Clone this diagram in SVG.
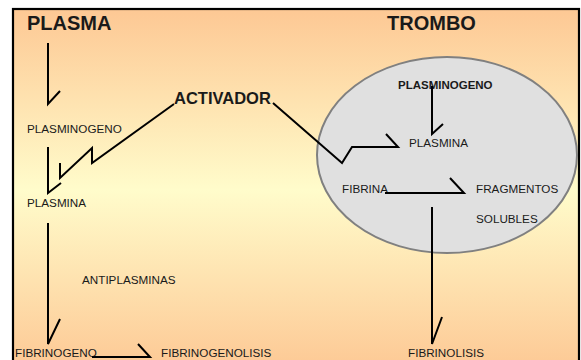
<svg xmlns="http://www.w3.org/2000/svg" width="581" height="360" viewBox="0 0 581 360">
<defs>
<linearGradient id="bg" x1="0" y1="0" x2="0" y2="1">
<stop offset="0" stop-color="#FDC894"/>
<stop offset="0.5" stop-color="#FFFCCB"/>
<stop offset="1" stop-color="#FDC894"/>
</linearGradient>
</defs>
<style>
.t{font-family:"Liberation Sans",Arial,sans-serif;fill:#1a1a1a}
.big{font-size:20px;font-weight:bold}
.mid{font-size:16.5px;font-weight:bold}
.sm{font-size:11.7px}
.smb{font-size:11.5px;font-weight:bold}
.c{fill:none;stroke:#000;stroke-width:2;stroke-linejoin:miter}
</style>
<rect x="0" y="0" width="581" height="360" fill="#fff"/>
<rect x="13" y="9" width="566" height="362" fill="url(#bg)" stroke="#000" stroke-width="2.2"/>
<g id="trombo-ellipse">
<ellipse cx="447" cy="155" rx="130" ry="98" fill="#E0E0E0" stroke="#808080" stroke-width="2"/>
</g>
<g id="plasma"><text class="t big" x="27" y="30">PLASMA</text></g>
<g id="trombo"><text class="t big" x="387" y="30">TROMBO</text></g>
<g id="activador"><text class="t mid" x="174" y="104">ACTIVADOR</text></g>
<g id="plasminogeno-l"><text class="t sm" x="27" y="133">PLASMINOGENO</text></g>
<g id="plasmina-l"><text class="t sm" x="27" y="207">PLASMINA</text></g>
<g id="antiplasminas"><text class="t sm" x="82" y="284">ANTIPLASMINAS</text></g>
<g id="fibrinogeno"><text class="t sm" x="15" y="357">FIBRINOGENO</text></g>
<g id="fibrinogenolisis"><text class="t sm" x="161" y="357">FIBRINOGENOLISIS</text></g>
<g id="plasminogeno-r"><text class="t smb" x="398" y="89">PLASMINOGENO</text></g>
<g id="plasmina-r"><text class="t sm" x="409" y="147">PLASMINA</text></g>
<g id="fibrina"><text class="t sm" x="342" y="193">FIBRINA</text></g>
<g id="fragmentos"><text class="t sm" x="476" y="193">FRAGMENTOS</text></g>
<g id="solubles"><text class="t sm" x="476" y="223">SOLUBLES</text></g>
<g id="fibrinolisis"><text class="t sm" x="408" y="357">FIBRINOLISIS</text></g>
<g id="connectors">
<path class="c" d="M48 43 V104 L60 91"/>
<path class="c" d="M48 147 V193 L61 183"/>
<path class="c" d="M174 104 L92 163 V148 L60 178 V163"/>
<path class="c" d="M273 103 L342 163 L352 147 H398 L386 134"/>
<path class="c" d="M432 86 V134 L443 124"/>
<path class="c" d="M385 193 H464 L450 178"/>
<path class="c" d="M432 207 V344 L442 317"/>
<path class="c" d="M48 223 V344 L60 319"/>
<path class="c" d="M92 357 H150 L138 344"/>
</g>
</svg>
